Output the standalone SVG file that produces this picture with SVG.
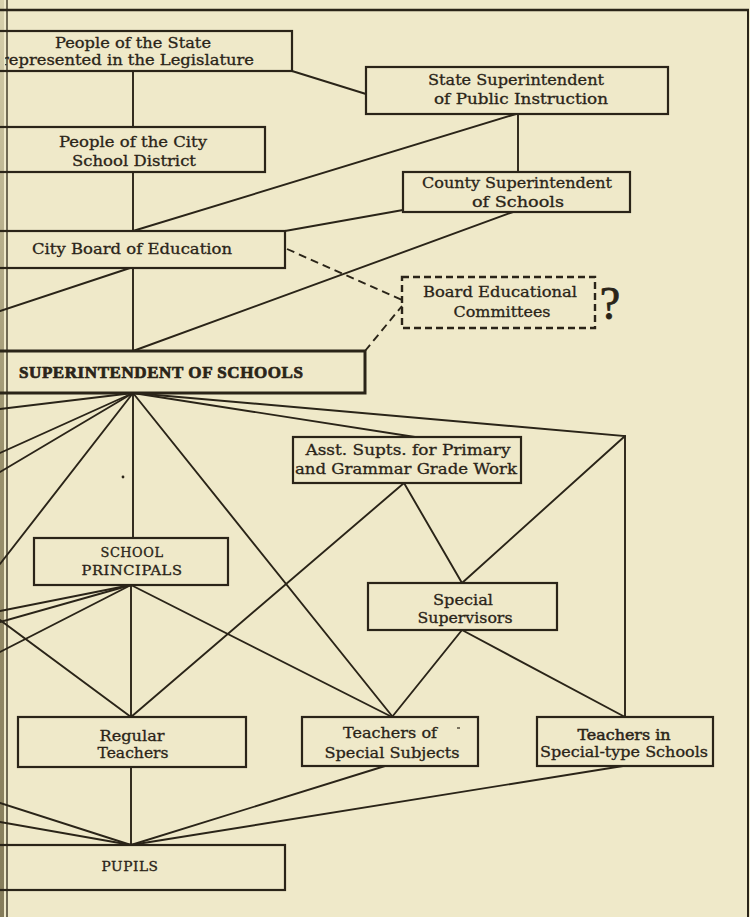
<svg xmlns="http://www.w3.org/2000/svg" width="750" height="917" viewBox="0 0 750 917">
<style>
.bg{fill:#efe9c9}
.box{fill:none;stroke:#2a2418;stroke-width:2.2}
.dbox{fill:none;stroke:#2a2418;stroke-width:2.4;stroke-dasharray:7 4}
.ln{fill:none;stroke:#2a2418;stroke-width:1.9;stroke-linecap:round}
.dl{fill:none;stroke:#2a2418;stroke-width:1.9;stroke-dasharray:8 5}
.t{font-family:"DejaVu Serif","Liberation Serif",serif;font-size:15px;fill:#2a2418;stroke:#2a2418;stroke-width:0.3;text-anchor:middle}
.c{font-size:12px;letter-spacing:0.5px}
.b{font-family:"Liberation Serif",serif;font-weight:bold;font-size:17px;stroke-width:0.7;text-anchor:start}
</style>
<defs>
<clipPath id="clipL"><rect x="5" y="0" width="745" height="917"/></clipPath>
<linearGradient id="gut" x1="0" y1="0" x2="0" y2="1">
<stop offset="0" stop-color="#d8d1ad"/>
<stop offset="0.5" stop-color="#9a916d"/>
<stop offset="1" stop-color="#857c5a"/>
</linearGradient>
</defs>
<rect class="bg" x="0" y="0" width="750" height="917"/>
<rect x="0" y="0" width="4" height="917" fill="url(#gut)"/>
<line x1="7" y1="0" x2="7" y2="917" stroke="#3a3322" stroke-width="1.4"/>
<line x1="0" y1="10" x2="749" y2="10" stroke="#2a2418" stroke-width="2.4"/>
<line x1="748" y1="9" x2="748" y2="917" stroke="#2a2418" stroke-width="2"/>

<g id="connectors">
<line class="ln" x1="133" y1="71" x2="133" y2="127"/>
<line class="ln" x1="292" y1="71" x2="366" y2="94"/>
<line class="ln" x1="133" y1="172" x2="133" y2="231"/>
<line class="ln" x1="516" y1="114" x2="133" y2="231"/>
<line class="ln" x1="518" y1="114" x2="518" y2="172"/>
<line class="ln" x1="403" y1="210" x2="285" y2="231"/>
<line class="ln" x1="513" y1="212" x2="133" y2="351"/>
<line class="ln" x1="130" y1="268" x2="0" y2="311"/>
<line class="ln" x1="133" y1="268" x2="133" y2="351"/>
<line class="dl" x1="287" y1="249" x2="402" y2="300"/>
<line class="dl" x1="365" y1="351" x2="402" y2="306"/>
<line class="ln" x1="133" y1="393" x2="0" y2="409"/>
<line class="ln" x1="133" y1="393" x2="0" y2="453"/>
<line class="ln" x1="133" y1="393" x2="0" y2="472"/>
<line class="ln" x1="133" y1="393" x2="0" y2="564"/>
<line class="ln" x1="133" y1="393" x2="133" y2="538"/>
<line class="ln" x1="133" y1="393" x2="392" y2="716"/>
<line class="ln" x1="133" y1="393" x2="415" y2="437"/>
<polyline class="ln" points="133,393 625,436 625,717"/>
<line class="ln" x1="404" y1="483" x2="131" y2="717"/>
<line class="ln" x1="404" y1="483" x2="462" y2="583"/>
<line class="ln" x1="625" y1="436" x2="462" y2="583"/>
<line class="ln" x1="462" y1="630" x2="392" y2="717"/>
<line class="ln" x1="462" y1="630" x2="625" y2="717"/>
<line class="ln" x1="131" y1="585" x2="0" y2="611"/>
<line class="ln" x1="131" y1="585" x2="0" y2="622"/>
<line class="ln" x1="131" y1="585" x2="0" y2="652"/>
<line class="ln" x1="131" y1="585" x2="131" y2="717"/>
<line class="ln" x1="131" y1="585" x2="392" y2="717"/>
<line class="ln" x1="0" y1="620" x2="131" y2="717"/>
<line class="ln" x1="131" y1="767" x2="131" y2="845"/>
<line class="ln" x1="0" y1="803" x2="131" y2="845"/>
<line class="ln" x1="0" y1="822" x2="131" y2="845"/>
<line class="ln" x1="385" y1="766" x2="131" y2="845"/>
<line class="ln" x1="623" y1="766" x2="131" y2="845"/>
</g>

<g id="people-state">
<rect class="box" x="-5" y="31" width="297" height="40"/>
<text class="t" x="133" y="48" textLength="156" lengthAdjust="spacingAndGlyphs">People of the State</text>
<text class="t" x="1" y="65" style="text-anchor:start" textLength="253" lengthAdjust="spacingAndGlyphs" clip-path="url(#clipL)">represented in the Legislature</text>
</g>
<g id="state-supt">
<rect class="box" x="366" y="67" width="302" height="47"/>
<text class="t" x="516" y="85" textLength="176" lengthAdjust="spacingAndGlyphs">State Superintendent</text>
<text class="t" x="521" y="104" textLength="174" lengthAdjust="spacingAndGlyphs">of Public Instruction</text>
</g>
<g id="people-city">
<rect class="box" x="-5" y="127" width="270" height="45"/>
<text class="t" x="133" y="147" textLength="148" lengthAdjust="spacingAndGlyphs">People of the City</text>
<text class="t" x="134" y="166" textLength="124" lengthAdjust="spacingAndGlyphs">School District</text>
</g>
<g id="county-supt">
<rect class="box" x="403" y="172" width="227" height="40"/>
<text class="t" x="517" y="188" textLength="190" lengthAdjust="spacingAndGlyphs">County Superintendent</text>
<text class="t" x="518" y="207" textLength="92" lengthAdjust="spacingAndGlyphs">of Schools</text>
</g>
<g id="city-board">
<rect class="box" x="-5" y="231" width="290" height="37"/>
<text class="t" x="132" y="254" textLength="200" lengthAdjust="spacingAndGlyphs">City Board of Education</text>
</g>
<g id="board-committees">
<rect class="dbox" x="402" y="277" width="193" height="51"/>
<text class="t" x="500" y="297" textLength="154" lengthAdjust="spacingAndGlyphs">Board Educational</text>
<text class="t" x="502" y="317" textLength="97" lengthAdjust="spacingAndGlyphs">Committees</text>
<text class="t" x="610" y="319" style="font-size:46px;font-family:'Liberation Serif',serif;stroke-width:0.8">?</text>
</g>
<g id="city-supt">
<rect class="box" x="-5" y="351" width="370" height="42" style="stroke-width:3"/>
<text class="t b" x="19" y="378" textLength="284" lengthAdjust="spacing">SUPERINTENDENT OF SCHOOLS</text>
</g>
<g id="asst-supts">
<rect class="box" x="293" y="437" width="228" height="46"/>
<text class="t" x="408" y="455" textLength="205" lengthAdjust="spacingAndGlyphs">Asst. Supts. for Primary</text>
<text class="t" x="406" y="474" textLength="222" lengthAdjust="spacingAndGlyphs">and Grammar Grade Work</text>
</g>
<circle cx="123" cy="477" r="1.4" fill="#2a2418"/>
<g id="school-principals">
<rect class="box" x="34" y="538" width="194" height="47"/>
<text class="t c" x="132" y="557" textLength="63" lengthAdjust="spacingAndGlyphs">SCHOOL</text>
<text class="t c" x="132" y="575" textLength="101" lengthAdjust="spacingAndGlyphs">PRINCIPALS</text>
</g>
<g id="special-supervisors">
<rect class="box" x="368" y="583" width="189" height="47"/>
<text class="t" x="463" y="605" textLength="60" lengthAdjust="spacingAndGlyphs">Special</text>
<text class="t" x="465" y="623" textLength="95" lengthAdjust="spacingAndGlyphs">Supervisors</text>
</g>
<g id="regular-teachers">
<rect class="box" x="18" y="717" width="228" height="50"/>
<text class="t" x="132" y="741" textLength="65" lengthAdjust="spacingAndGlyphs">Regular</text>
<text class="t" x="133" y="758" textLength="71" lengthAdjust="spacingAndGlyphs">Teachers</text>
</g>
<g id="special-subjects">
<rect class="box" x="302" y="717" width="176" height="49"/>
<text class="t" x="390" y="738" textLength="94" lengthAdjust="spacingAndGlyphs">Teachers of</text>
<text class="t" x="392" y="758" textLength="135" lengthAdjust="spacingAndGlyphs">Special Subjects</text>
<line x1="457" y1="728" x2="460" y2="728" stroke="#2a2418" stroke-width="1.2"/>
</g>
<g id="special-type">
<rect class="box" x="537" y="717" width="176" height="49"/>
<text class="t" x="624" y="740" textLength="93" lengthAdjust="spacingAndGlyphs" style="stroke-width:0.5">Teachers in</text>
<text class="t" x="624" y="757" textLength="168" lengthAdjust="spacingAndGlyphs">Special-type Schools</text>
</g>
<g id="pupils">
<rect class="box" x="-5" y="845" width="290" height="45"/>
<text class="t c" x="130" y="871" textLength="57" lengthAdjust="spacingAndGlyphs">PUPILS</text>
</g>
</svg>
